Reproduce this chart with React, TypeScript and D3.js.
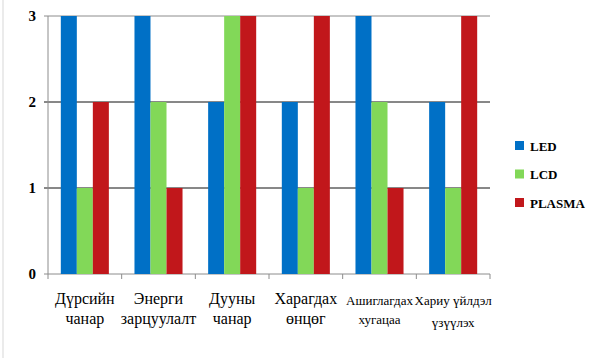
import React from "react";
import * as d3 from "d3";

const categories: string[][] = [
  ["Дүрсийн", "чанар"],
  ["Энерги", "зарцуулалт"],
  ["Дууны", "чанар"],
  ["Харагдах", "өнцөг"],
  ["Ашиглагдах", "хугацаа"],
  ["Хариу үйлдэл", "үзүүлэх"],
];
const seriesNames = ["LED", "LCD", "PLASMA"];
const ledValues = [3, 3, 2, 2, 3, 2];
const lcdValues = [1, 2, 3, 1, 2, 1];
const plasmaValues = [2, 1, 3, 3, 1, 3];
const yTicks = [0, 1, 2, 3];
const colors = ["#0070c6", "#82d858", "#c1171b"];
const smallLabel = [false, false, false, false, true, true];

export default function App() {
  const W = 600, H = 358;
  const left = 48, right = 490, top = 16, bottom = 274;
  const x0 = d3.scaleBand<number>().domain(d3.range(categories.length)).range([left, right]).paddingInner(0).paddingOuter(0);
  const x1 = d3.scaleBand<number>().domain([0, 1, 2]).range([0, x0.bandwidth()]).paddingInner(0).paddingOuter(0.8);
  const y = d3.scaleLinear().domain([0, 3]).range([bottom, top]);
  const series = [ledValues, lcdValues, plasmaValues];
  const serifStyle = { fontFamily: '"Liberation Serif"' };

  return (
    <svg width={W} height={H} style={{ position: "absolute", left: 0, top: 0, background: "#fff" }}>
      <rect x={0} y={0} width={W} height={H} fill="#fff" />
      <line x1={3} x2={3} y1={0} y2={H} stroke="#e4e4e4" strokeWidth={1.5} />
      {yTicks.map((t) => (
        <g key={t}>
          <line x1={left - 4} x2={right} y1={y(t)} y2={y(t)} stroke={t === 0 || t === 3 ? "#8c8c8c" : "#111"} strokeWidth={1} />
          <text x={36} y={y(t) + 5} textAnchor="end" style={serifStyle} fontWeight="bold" fontSize={15} fill="#000">{t}</text>
        </g>
      ))}
      <line x1={left} x2={left} y1={top} y2={bottom} stroke="#8c8c8c" />
      {d3.range(categories.length + 1).map((i) => {
        const xx = i < categories.length ? (x0(i) as number) : right;
        return <line key={i} x1={xx} x2={xx} y1={bottom} y2={bottom + 5} stroke="#8c8c8c" />;
      })}
      {series.map((vals, s) =>
        vals.map((v, i) => (
          <rect key={s + "-" + i} x={(x0(i) as number) + (x1(s) as number)} width={x1.bandwidth()} y={y(v)} height={bottom - y(v)} fill={colors[s]} />
        ))
      )}
      {categories.map((lines, i) => {
        const cx = (x0(i) as number) + x0.bandwidth() / 2;
        const fs = smallLabel[i] ? 13 : 16;
        return (
          <text key={i} textAnchor="middle" style={serifStyle} fontSize={fs} fill="#000">
            <tspan x={cx} y={i >= 4 ? 305 : 304}>{lines[0]}</tspan>
            <tspan x={cx} y={i === 5 ? 327 : 324}>{lines[1]}</tspan>
          </text>
        );
      })}
      {seriesNames.map((n, s) => (
        <g key={n} transform={`translate(515, ${141 + s * 28.5})`}>
          <rect x={0} y={0} width={9} height={9} fill={colors[s]} />
          <text x={15} y={9.5} style={serifStyle} fontWeight="bold" fontSize={13} fill="#000">{n}</text>
        </g>
      ))}
    </svg>
  );
}
